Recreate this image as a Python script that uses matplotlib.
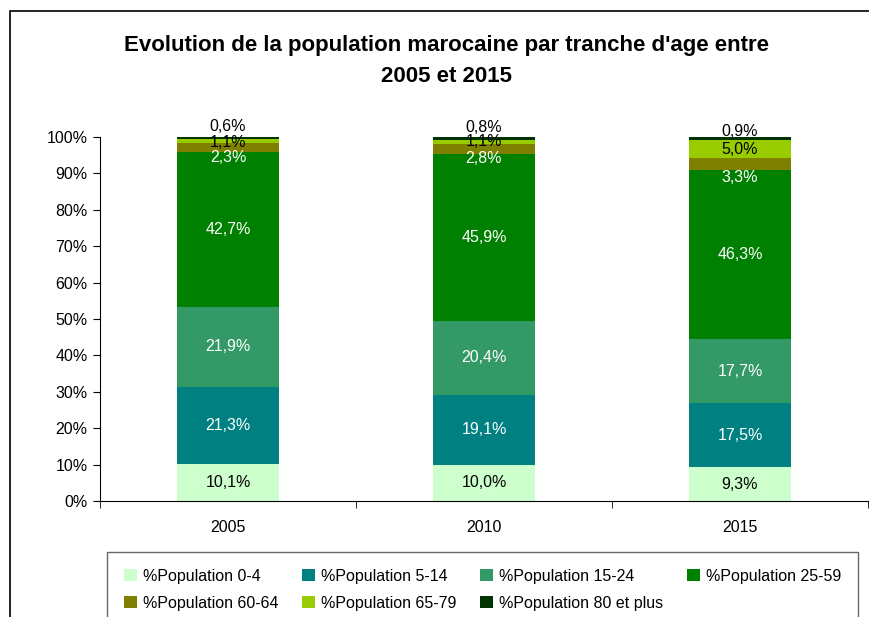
import matplotlib.pyplot as plt
import matplotlib.patches as mpatches
import numpy as np

plt.rcParams['font.family'] = ['Liberation Sans', 'DejaVu Sans']

years = ['2005', '2010', '2015']
series = ['%Population 0-4', '%Population 5-14', '%Population 15-24',
          '%Population 25-59', '%Population 60-64', '%Population 65-79',
          '%Population 80 et plus']
pop_0_4 = [10.1, 10.0, 9.3]
pop_5_14 = [21.3, 19.1, 17.5]
pop_15_24 = [21.9, 20.4, 17.7]
pop_25_59 = [42.7, 45.9, 46.3]
pop_60_64 = [2.3, 2.8, 3.3]
pop_65_79 = [1.1, 1.1, 5.0]
pop_80 = [0.6, 0.8, 0.9]

values = [pop_0_4, pop_5_14, pop_15_24, pop_25_59, pop_60_64, pop_65_79, pop_80]
colors = ['#CCFFCC', '#008080', '#339966', '#008000', '#808000', '#99CC00', '#003300']
text_colors = ['black', 'white', 'white', 'white', 'white', 'black', 'black']

# where Excel pushed the small labels (in % units, from segment centre)
label_shift = {(0, 4): -2.65, (0, 5): -0.25, (0, 6): 3.1,
               (1, 4): -2.6, (1, 5): -0.05, (1, 6): 2.8,
               (2, 4): -3.55, (2, 5): 0.1, (2, 6): 2.0}

fig = plt.figure(figsize=(8.69, 6.17), dpi=100)
ax = fig.add_axes([100 / 869, 1 - 501 / 617, 768 / 869, 364 / 617])

x = np.arange(len(years))
bottom = np.zeros(len(years))
for s, (vals, col) in enumerate(zip(values, colors)):
    vals = np.array(vals) / 100
    ax.bar(x, vals, 0.4, bottom=bottom, color=col, label=series[s],
           clip_on=False, zorder=2)
    for i in range(len(years)):
        yc = bottom[i] + vals[i] / 2 + label_shift.get((i, s), 0) / 100
        ax.text(x[i], yc, f'{vals[i] * 100:.1f}%'.replace('.', ','),
                ha='center', va='center', fontsize=11.5,
                color=text_colors[s], zorder=3)
    bottom += vals

ax.set_xlim(-0.5, 2.5)
ax.set_ylim(0, 1)
ax.set_yticks(np.arange(0, 1.01, 0.1))
ax.set_yticklabels([f'{int(v)}%' for v in np.arange(0, 101, 10)], fontsize=11.5)
ax.set_xticks(x)
ax.set_xticklabels(years, fontsize=11.5)
ax.set_xticks([-0.5, 0.5, 1.5, 2.5], minor=True)
ax.tick_params(axis='x', which='major', length=0, pad=14)
ax.tick_params(axis='x', which='minor', length=5, direction='out')
ax.tick_params(axis='y', length=5, direction='out', pad=4)
ax.spines['top'].set_visible(False)
ax.spines['right'].set_visible(False)

fig.text(0.514, 1 - 46 / 617, "Evolution de la population marocaine par tranche d'age entre",
         ha='center', va='center', fontsize=16, fontweight='bold')
fig.text(0.514, 1 - 76 / 617, "2005 et 2015",
         ha='center', va='center', fontsize=16, fontweight='bold')

# legend reads row by row, matplotlib fills column by column
handles, labels = ax.get_legend_handles_labels()
order = [0, 4, 1, 5, 2, 6, 3]
leg = fig.legend([handles[k] for k in order], [labels[k] for k in order],
                 loc='upper left', ncol=4, mode='expand',
                 bbox_to_anchor=(107 / 869, 1 - 558 / 617, 751 / 869, 0.01),
                 fontsize=11.5, frameon=True, fancybox=False, edgecolor='#404040',
                 handlelength=0.8, handleheight=0.8, handletextpad=0.4,
                 labelspacing=0.75, borderpad=1.05, borderaxespad=0)
leg.get_frame().set_linewidth(1)

fig.patches.append(mpatches.Rectangle((10 / 869, -0.1), 1.2, 1 - 11 / 617 + 0.1,
                                      transform=fig.transFigure, fill=False,
                                      edgecolor='black', linewidth=1.2))

fig.savefig('out.png', dpi=100)
